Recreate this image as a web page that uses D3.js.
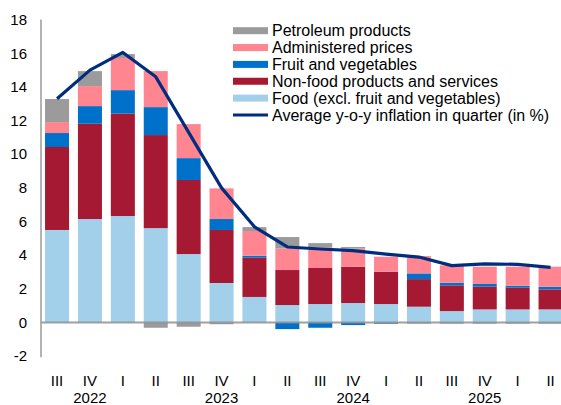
<!DOCTYPE html>
<html>
<head>
<meta charset="utf-8" />
<title>Inflation decomposition</title>
<style>
html, body { margin: 0; padding: 0; background: #fff; }
#chart { width: 561px; height: 405px; overflow: hidden; }
text { font-family: "Liberation Sans", Arial, sans-serif; fill: #000; }
</style>
</head>
<body>
<div id="chart"></div>
<script src="https://d3js.org/d3.v7.min.js"></script>
<script>
// quarters and years
var quarters = ["III","IV","I","II","III","IV","I","II","III","IV","I","II","III","IV","I","II"];
var years = ["2022","2022","2023","2023","2023","2023","2024","2024","2024","2024","2025","2025","2025","2025","2026","2026"];

// contributions (percentage points)
var food      = [5.50, 6.15, 6.33, 5.61, 4.07, 2.35, 1.52, 1.04, 1.10, 1.16, 1.10, 0.94, 0.68, 0.78, 0.78, 0.78];
var nonFood   = [4.93, 5.66, 6.08, 5.53, 4.40, 3.15, 2.33, 2.08, 2.14, 2.16, 1.92, 1.64, 1.53, 1.35, 1.29, 1.19];
var fruitVeg  = [0.83, 1.05, 1.40, 1.66, 1.30, 0.65, 0.12, -0.39, -0.31, -0.15, -0.07, 0.34, 0.16, 0.16, 0.12, 0.16];
var admin     = [0.65, 1.19, 1.91, 2.14, 2.02, 1.82, 1.47, 1.29, 1.21, 1.07, 0.89, 1.03, 1.03, 1.03, 1.13, 1.19];
var petroleum = [1.37, 0.89, 0.23, -0.31, -0.25, -0.10, 0.23, 0.67, 0.27, 0.10, 0.00, -0.07, -0.07, -0.07, -0.07, -0.07];

// average y-o-y inflation
var inflation = [13.3, 15.0, 16.05, 14.6, 11.3, 8.0, 5.69, 4.49, 4.37, 4.27, 4.07, 3.89, 3.38, 3.48, 3.46, 3.28];

var yTicks = [-2, 0, 2, 4, 6, 8, 10, 12, 14, 16, 18];

var series = [
    { key: "food",   name: "Food (excl. fruit and vegetables)", color: "#a2cfea", values: food },
    { key: "nonfood",name: "Non-food products and services",    color: "#a61932", values: nonFood },
    { key: "fruit",  name: "Fruit and vegetables",              color: "#0071ca", values: fruitVeg },
    { key: "admin",  name: "Administered prices",               color: "#ff8591", values: admin },
    { key: "petrol", name: "Petroleum products",                color: "#9b9b9b", values: petroleum }
];
var lineColor = "#002d7e";

var width = 561, height = 405;
var svg = d3.select("#chart").append("svg").attr("width", width).attr("height", height);

var rows = quarters.map(function(q, i) {
    var r = { idx: i };
    series.forEach(function(s) { r[s.key] = s.values[i]; });
    return r;
});

var x = d3.scaleBand().domain(d3.range(quarters.length)).range([40.6, 567]).paddingInner(0.27).paddingOuter(0.135);
var y = d3.scaleLinear().domain([-2, 18]).range([356.2, 19.6]);

var stack = d3.stack().keys(series.map(function(s){ return s.key; })).offset(d3.stackOffsetDiverging);
var stacked = stack(rows);

// bars
svg.append("g").selectAll("g")
    .data(stacked)
    .enter().append("g")
    .attr("fill", function(d, i) { return series[i].color; })
    .selectAll("rect")
    .data(function(d) { return d; })
    .enter().append("rect")
    .attr("x", function(d) { return x(d.data.idx); })
    .attr("width", x.bandwidth())
    .attr("y", function(d) { return y(Math.max(d[0], d[1])); })
    .attr("height", function(d) { return Math.abs(y(d[0]) - y(d[1])); });

// zero line and y axis line
svg.append("line")
    .attr("x1", 41).attr("x2", width)
    .attr("y1", y(0)).attr("y2", y(0))
    .attr("stroke", "#8f8f8f").attr("stroke-width", 2).attr("stroke-opacity", 0.85);

svg.append("line")
    .attr("x1", 41).attr("x2", 41)
    .attr("y1", y(18)).attr("y2", y(-2) + 1)
    .attr("stroke", "#9a9a9a").attr("stroke-width", 1.5);

// y tick labels
svg.append("g").selectAll("text")
    .data(yTicks)
    .enter().append("text")
    .attr("x", 27)
    .attr("y", function(d) { return y(d); })
    .attr("dy", "0.35em")
    .attr("text-anchor", "end")
    .attr("font-size", "15px")
    .text(function(d) { return d; });

// quarter labels
svg.append("g").selectAll("text")
    .data(quarters)
    .enter().append("text")
    .attr("x", function(d, i) { return x(i) + x.bandwidth() / 2; })
    .attr("y", 381)
    .attr("dy", "0.35em")
    .attr("text-anchor", "middle")
    .attr("font-size", "15px")
    .text(function(d) { return d; });

// year labels under the fourth quarter
svg.append("g").selectAll("text")
    .data(quarters.map(function(q, i) { return { q: q, i: i }; }).filter(function(d) { return d.q === "IV"; }))
    .enter().append("text")
    .attr("x", function(d) { return x(d.i) + x.bandwidth() / 2; })
    .attr("y", 398)
    .attr("dy", "0.35em")
    .attr("text-anchor", "middle")
    .attr("font-size", "15px")
    .text(function(d) { return years[d.i]; });

// inflation line
var line = d3.line()
    .x(function(d, i) { return x(i) + x.bandwidth() / 2; })
    .y(function(d) { return y(d); });

svg.append("path")
    .datum(inflation)
    .attr("d", line)
    .attr("fill", "none")
    .attr("stroke", lineColor)
    .attr("stroke-width", 3.2)
    .attr("stroke-linejoin", "round");

// legend
var legendItems = series.slice().reverse().map(function(s) { return { name: s.name, color: s.color, type: "bar" }; });
legendItems.push({ name: "Average y-o-y inflation in quarter (in %)", color: lineColor, type: "line" });

var legend = svg.append("g").selectAll("g")
    .data(legendItems)
    .enter().append("g")
    .attr("transform", function(d, i) { return "translate(233," + (30.7 + i * 16.85) + ")"; });

legend.filter(function(d) { return d.type === "bar"; })
    .append("rect")
    .attr("x", 0).attr("y", -3.5)
    .attr("width", 35).attr("height", 7)
    .attr("fill", function(d) { return d.color; });

legend.filter(function(d) { return d.type === "line"; })
    .append("line")
    .attr("x1", 0).attr("x2", 35)
    .attr("y1", 0).attr("y2", 0)
    .attr("stroke", function(d) { return d.color; })
    .attr("stroke-width", 3);

legend.append("text")
    .attr("x", 39)
    .attr("y", 0)
    .attr("dy", "0.35em")
    .attr("font-size", "16px")
    .text(function(d) { return d.name; });
</script>
</body>
</html>
